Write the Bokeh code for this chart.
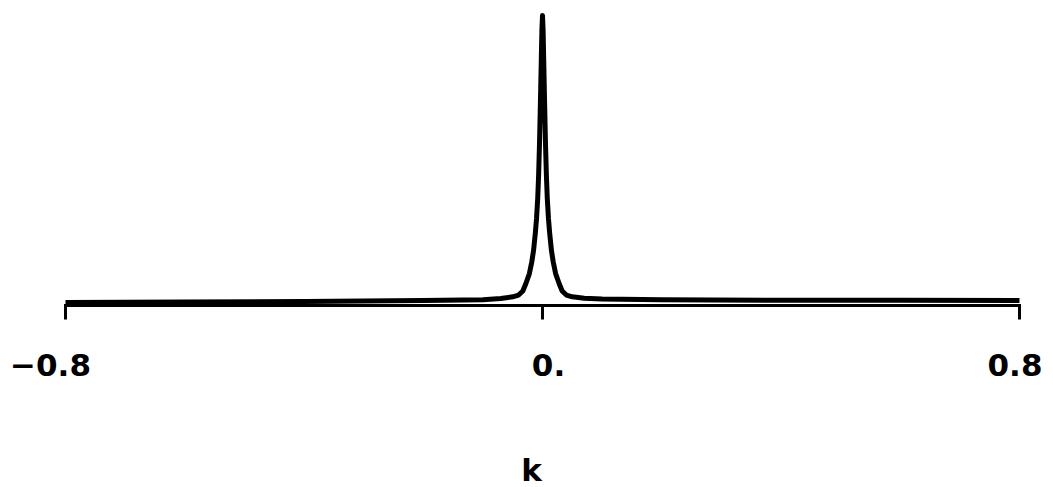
import math
from bokeh.plotting import figure
from bokeh.models import Range1d, ColumnDataSource
from bokeh.core.properties import value
from bokeh.embed import file_html
from bokeh.resources import INLINE

# Peak profile: wavenumber k and relative height (peak = 1)
k_vals = [-0.80, -0.60, -0.40, -0.20, -0.10, -0.070, -0.050, -0.040, -0.033,
          -0.028, -0.022, -0.018, -0.015, -0.012, -0.010, -0.008, -0.0065,
          -0.005, -0.0035, -0.002, -0.001, 0.0,
          0.001, 0.002, 0.0035, 0.005, 0.0065, 0.008, 0.010, 0.012, 0.015,
          0.018, 0.022, 0.028, 0.033, 0.040, 0.050, 0.070, 0.10, 0.20, 0.40,
          0.60, 0.80]
height = [0.010, 0.012, 0.014, 0.017, 0.020, 0.024, 0.030, 0.036, 0.050,
          0.075, 0.11, 0.15, 0.19, 0.25, 0.30, 0.37, 0.45,
          0.56, 0.70, 0.85, 0.95, 1.0,
          0.95, 0.85, 0.70, 0.56, 0.45, 0.37, 0.30, 0.25, 0.19,
          0.15, 0.11, 0.075, 0.050, 0.036, 0.030, 0.025, 0.022, 0.020, 0.018,
          0.018, 0.017]

tick_pos = [-0.8, 0.0, 0.8]
tick_txt = ["\u22120.8", "0.", "0.8"]
x_label = "k"

W, H = 1053, 487
base_px = 305          # screen row of the k axis
peak_px = 15           # screen row of the peak top
px_per_unit = 596.25   # horizontal scale
FONT = value("DejaVu Sans")

p = figure(width=W, height=H, output_backend="svg", toolbar_location=None,
           x_axis_location=None, y_axis_location=None,
           min_border_left=0, min_border_right=0,
           min_border_top=0, min_border_bottom=0)
p.x_range = Range1d(-0.8 - 65 / px_per_unit, 0.8 + (W - 1019) / px_per_unit)
unit_px = base_px - peak_px
p.y_range = Range1d(-(H - base_px) / unit_px, base_px / unit_px)

# k axis: baseline between the outer ticks, ticks hanging below it
p.segment(x0=[tick_pos[0]], y0=[0], x1=[tick_pos[-1]], y1=[0],
          line_color="black", line_width=3, line_cap="square")
p.ray(x=tick_pos, y=[0] * len(tick_pos), length=14, length_units="screen",
      angle=-math.pi / 2, line_color="black", line_width=3)

p.line(k_vals, height, line_color="black", line_width=5, line_join="round")

# tick labels, nudged sideways as lettered on the original axis
labels = ColumnDataSource(dict(x=tick_pos, y=[0] * len(tick_pos),
                               text=tick_txt, dx=[-15, 6, -4.5]))
p.text(x="x", y="y", text="text", source=labels, x_offset="dx", y_offset=59,
       text_align="center", text_baseline="alphabetic", text_font=FONT,
       text_font_style="bold", text_font_size="31px", text_color="black")

p.text(x=[0], y=[0], text=[x_label], x_offset=-11, y_offset=164,
       text_align="center", text_baseline="alphabetic", text_font=FONT,
       text_font_style="bold", text_font_size="31px", text_color="black")

p.xgrid.visible = False
p.ygrid.visible = False
p.outline_line_color = None
p.background_fill_color = "white"
p.border_fill_color = "white"

open("out.html", "w").write(file_html(p, INLINE))
